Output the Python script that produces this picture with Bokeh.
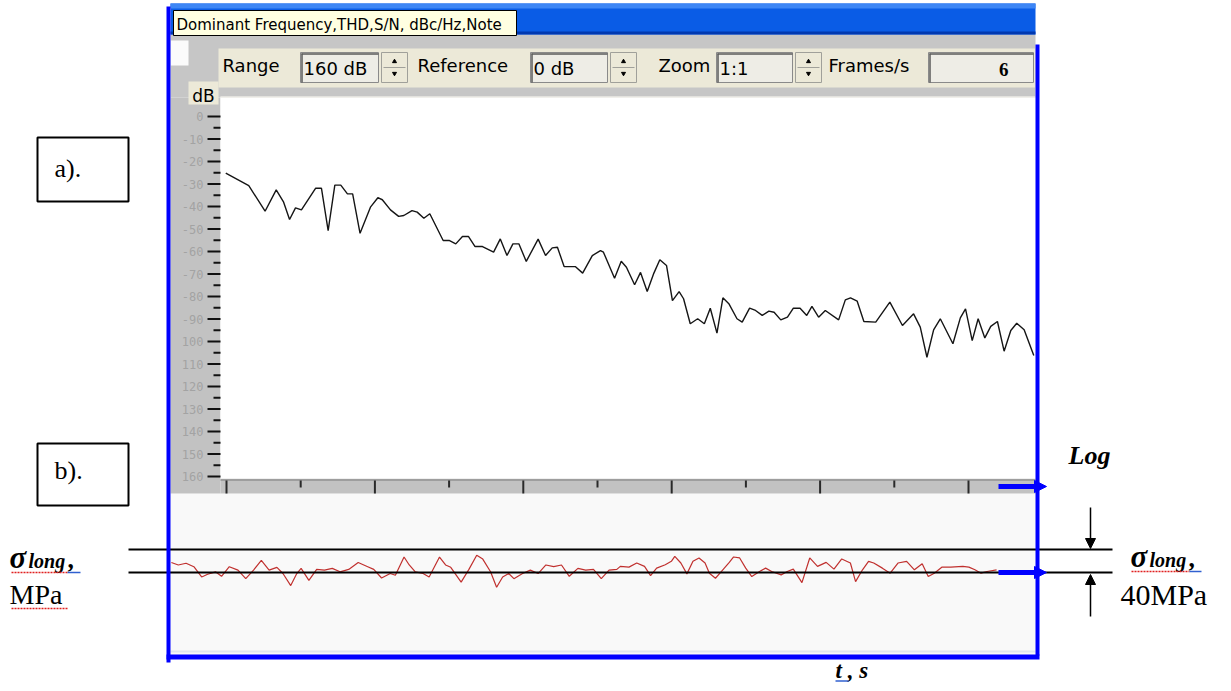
from bokeh.plotting import figure
from bokeh.models import Range1d, Arrow, NormalHead
from bokeh.core.properties import value
from bokeh.embed import file_html
from bokeh.resources import INLINE

# ---------------- data ----------------
# a) spectrum-like trace, dB vs. bin (bottom scale: one tick every 10 bins)
freq_bins = [-0.1, 3.0, 5.2, 6.7, 7.7, 8.5, 9.3, 10.1, 12.0, 12.8,
             13.7, 14.6, 15.4, 16.3, 17.0, 18.0, 19.4, 20.4, 21.0, 22.1,
             23.2, 23.9, 25.0, 25.7, 26.6, 27.4, 29.2, 30.0, 30.9, 31.8,
             32.6, 33.5, 34.5, 36.0, 36.9, 37.8, 38.6, 39.4, 40.4, 42.0,
             43.0, 43.9, 44.6, 45.5, 47.0, 48.0, 49.3, 50.4, 50.8, 52.3,
             53.2, 53.9, 55.0, 55.8, 56.7, 57.6, 58.4, 59.3, 60.1, 61.0,
             61.6, 62.5, 63.5, 64.4, 65.2, 66.1, 66.9, 67.7, 68.8, 69.5,
             70.5, 71.3, 72.2, 73.1, 73.8, 74.7, 75.6, 76.4, 77.3, 78.2,
             78.9, 79.8, 80.7, 82.5, 83.4, 84.1, 85.0, 85.9, 87.5, 89.4,
             91.1, 92.6, 93.5, 94.4, 95.3, 96.2, 97.9, 98.9, 99.6, 100.5,
             101.3, 102.2, 103.0, 103.9, 104.8, 105.7, 106.5, 107.5, 108.8]
level_db = [-25.2, -30.7, -42.1, -32.6, -38.1, -45.8, -40.6, -41.5, -31.9, -31.9,
            -50.7, -30.5, -30.5, -34.4, -34.4, -51.9, -40.3, -36.1, -37.0, -41.5,
            -44.4, -44.0, -41.8, -42.5, -45.2, -43.2, -55.1, -55.1, -56.6, -53.3,
            -53.3, -57.8, -57.8, -60.3, -54.4, -61.8, -56.6, -56.6, -64.4, -54.5,
            -61.8, -58.4, -58.1, -66.7, -66.7, -69.6, -61.8, -59.6, -60.3, -71.9,
            -64.3, -67.0, -74.8, -69.3, -77.8, -69.6, -63.7, -66.2, -81.8, -77.8,
            -81.0, -92.1, -89.9, -92.1, -85.2, -96.3, -80.6, -83.2, -89.9, -91.4,
            -85.2, -86.2, -88.4, -86.5, -87.0, -90.4, -89.2, -85.2, -85.2, -88.4,
            -84.4, -89.2, -86.2, -90.4, -81.5, -80.6, -82.1, -91.1, -91.4, -82.5,
            -92.9, -87.7, -93.6, -107.0, -94.8, -89.9, -101.0, -89.5, -85.5, -99.6,
            -89.9, -98.4, -93.3, -91.1, -104.3, -95.1, -91.9, -94.8, -106.2]

db_tick_values = [0, -10, -20, -30, -40, -50, -60, -70, -80, -90,
                  -100, -110, -120, -130, -140, -150, -160]
db_tick_labels = ["0", "-10", "-20", "-30", "-40", "-50", "-60", "-70", "-80", "-90",
                  "100", "110", "120", "130", "140", "150", "160"]
bin_ticks = [0, 10, 20, 30, 40, 50, 60, 70, 80, 90, 100]

# b) longitudinal stress trace, MPa vs. time
time_s = [0.1, 0.9, 1.8, 2.7, 3.6, 4.3, 5.2, 5.9, 6.8, 7.8,
          8.7, 9.6, 10.5, 11.4, 12.3, 13.0, 13.9, 14.6, 15.1, 16.0,
          16.9, 17.8, 18.7, 19.6, 20.6, 21.7, 22.8, 23.5, 24.4, 25.4,
          26.0, 27.0, 27.6, 28.3, 29.2, 29.9, 31.1, 31.8, 32.4, 33.6,
          34.5, 35.4, 36.1, 37.0, 37.7, 38.4, 39.1, 39.7, 40.7, 41.6,
          42.5, 43.4, 44.3, 45.2, 46.1, 47.1, 48.0, 48.9, 49.8, 50.7,
          51.6, 52.0, 53.0, 53.9, 54.8, 55.5, 56.2, 57.2, 57.9, 58.3,
          59.0, 59.7, 60.4, 61.1, 61.8, 62.3, 63.0, 63.7, 64.6, 65.1,
          65.8, 66.5, 67.2, 68.1, 68.8, 69.5, 70.6, 71.3, 72.0, 73.0,
          73.9, 74.8, 75.8, 76.7, 77.6, 78.6, 79.2, 80.0, 80.7, 81.3,
          82.3, 83.2, 84.1, 85.1, 86.0, 86.9, 87.6, 88.3, 89.2, 90.2,
          91.6, 92.3, 93.0, 93.7, 94.4, 95.5]
stress_mpa = [17.3, 13.1, 16.1, 10.1, -7.8, -3.0, 1.2, -6.6, 10.1, 4.2,
              -10.7, 4.2, 20.9, 4.2, 9.0, -1.8, -22.7, -1.8, 7.2, -13.7,
              5.4, 4.2, 7.2, 1.2, 5.4, 17.3, 10.1, 5.4, -9.6, -1.8,
              -4.8, 26.9, 13.1, 1.2, -1.8, -7.8, 26.9, 13.1, 9.0, -16.7,
              5.4, 29.9, 23.3, 1.2, -25.7, -7.8, -1.8, -10.7, -1.8, 4.2,
              -1.8, 13.1, 10.1, 13.1, -6.6, 7.2, 4.2, 5.4, -10.7, 4.2,
              5.4, 10.6, 9.4, 16.5, 10.6, -5.3, 7.6, 13.5, 19.4, 28.2,
              16.5, -2.4, 19.4, 25.3, 16.5, -1.2, -10.0, 1.8, 17.6, 27.0,
              25.3, 7.6, -7.1, 1.8, 7.6, 1.8, -4.1, 1.8, 5.9, -17.6,
              25.3, 10.6, 17.6, 5.9, 23.5, 16.5, -15.9, 4.7, 19.4, 16.5,
              7.6, -1.2, 16.5, 19.4, 4.7, 15.3, -7.1, -1.2, 9.4, 9.4,
              10.6, 9.4, 4.7, -1.2, 1.8, 4.7]
stress_levels = [0, 40]   # the two reference lines, 40 MPa apart

# toolbar texts
toolbar_labels = ["Range", "Reference", "Zoom", "Frames/s"]
toolbar_fields = ["160 dB", "0 dB", "1:1", "6"]
tooltip_text = "Dominant Frequency,THD,S/N, dBc/Hz,Note"

# ---------------- figure (picture-pixel coordinates for the drawing) ----------------
W, H = 1223, 683
p = figure(width=W, height=H, x_range=Range1d(0, 1223), y_range=Range1d(683, 0),
           output_backend="svg", toolbar_location=None, min_border=0,
           x_axis_location=None, y_axis_location=None)
p.grid.visible = False
p.outline_line_color = None
p.background_fill_color = "white"
p.border_fill_color = "white"
p.extra_x_ranges = {"bins": Range1d(-30.458, 134.367), "time": Range1d(-19.653, 121.734)}
p.extra_y_ranges = {"db": Range1d(-252, 51.556), "mpa": Range1d(-193.04, 994.78)}

SERIF = "Liberation Serif"
UI = "DejaVu Sans"


def box(l, r, t, b, fill, line=None, lw=1):
    p.quad(left=l, right=r, top=t, bottom=b, fill_color=fill,
           line_color=line, line_width=lw)


def txt(x, y, s, size, font=UI, color="black", style="normal", align="left",
        baseline="middle", **kw):
    p.text(x=[x], y=[y], text=[s], text_font=value(font), text_font_size=f"{size}px",
           text_color=color, text_font_style=style, text_align=align,
           text_baseline=baseline, **kw)


# panel b background
box(170, 1035, 493, 655, "#f9f9f9")
p.segment(x0=[170], y0=[651], x1=[1035], y1=[651], line_color="#dfe6ee", line_width=2)

# window chrome
box(170, 1035, 34, 97, "#c6c6c6")
box(170, 220, 97, 493, "#c2c2c2")
box(220, 1035, 478, 493, "#c2c2c2")
box(218, 1035, 48, 87, "#ece9d8")
box(220, 1035, 96, 478, "white")
p.segment(x0=[220], y0=[96.5], x1=[1035], y1=[96.5], line_color="#e2e0d8", line_width=1)
box(170, 188, 40, 65, "#fbfbfb")
box(188, 218, 81, 104, "#ece9d8")
txt(203, 95, "dB", 17, align="center")

# toolbar controls
label_x = [222, 417, 658, 828]
field_l = [300, 530, 716, 928]
field_r = [378, 607, 792, 1033]
spin_l = [381, 610, 795, None]
for i in range(4):
    txt(label_x[i], 65, toolbar_labels[i], 18)
    box(field_l[i], field_r[i], 52, 82, "#eeede6", "#8a8a8a", 1)
    p.segment(x0=[field_l[i] + 1], y0=[53.5], x1=[field_r[i]], y1=[53.5],
              line_color="#5a5a5a", line_width=1.5)
    p.segment(x0=[field_l[i] + 1.5], y0=[53], x1=[field_l[i] + 1.5], y1=[82],
              line_color="#5a5a5a", line_width=1.5)
    if spin_l[i] is not None:
        sx = spin_l[i]
        box(sx, sx + 26, 52, 82, "#ece9d8", "#a0a09a", 1)
        p.segment(x0=[sx + 2], y0=[67], x1=[sx + 24], y1=[67], line_color="#a0a09a")
        p.scatter(x=[sx + 13], y=[61], marker="triangle", size=4, color="black")
        p.scatter(x=[sx + 13], y=[73], marker="inverted_triangle", size=4, color="black")
for i in range(3):
    txt(field_l[i] + 3, 68, toolbar_fields[i], 18)
txt(1008, 69, toolbar_fields[3], 19, font="Liberation Serif", style="bold", align="right")

# title bar
box(170, 1035, 3, 34, "#0a5ce6")
box(170, 1035, 3, 8, "#3d86f5")
box(170, 1035, 31, 34, "#0038b0")

# tooltip
box(173, 516, 10, 35, "#ffffe1", "black", 1)
txt(176, 24, tooltip_text, 15)

# dB scale of the analyser
p.segment(x0=[207] * len(db_tick_values), y0=db_tick_values,
          x1=[220] * len(db_tick_values), y1=db_tick_values,
          y_range_name="db", line_color="#111111", line_width=2)
minor = [v - 5 for v in db_tick_values[:-1]]
p.segment(x0=[213] * len(minor), y0=minor, x1=[220] * len(minor), y1=minor,
          y_range_name="db", line_color="#111111", line_width=2)
p.text(x=[203] * len(db_tick_values), y=db_tick_values, text=db_tick_labels,
       y_range_name="db", text_font=value("DejaVu Sans Mono"), text_font_size="12px",
       text_color="#a3a3a3", text_align="right", text_baseline="middle")

# bottom strip ticks
p.segment(x0=[220], y0=[479.5], x1=[1035], y1=[479.5], line_color="#7a7a7a", line_width=1)
long_t = [b for b in bin_ticks if b % 20 == 0]
short_t = [b for b in bin_ticks if b % 20 != 0]
p.segment(x0=long_t, y0=[480] * len(long_t), x1=long_t, y1=[493] * len(long_t),
          x_range_name="bins", line_color="#2a2a2a", line_width=2)
p.segment(x0=short_t, y0=[480] * len(short_t), x1=short_t, y1=[487] * len(short_t),
          x_range_name="bins", line_color="#2a2a2a", line_width=2)

# a) trace
p.line(freq_bins, level_db, x_range_name="bins", y_range_name="db",
       line_color="#151515", line_width=1.4)

# b) stress trace and reference lines
p.line(time_s, stress_mpa, x_range_name="time", y_range_name="mpa",
       line_color="#c0302e", line_width=1.2)
p.segment(x0=[128, 128], y0=stress_levels, x1=[1112, 1112], y1=stress_levels,
          y_range_name="mpa", line_color="black", line_width=2)

# blue frame
box(166, 170, 6, 662, "#0000ff")
box(1035, 1039, 44, 655, "#0000ff")
box(166, 1039, 654, 659, "#0000ff")

# arrows
for yy in [486, 572]:
    p.add_layout(Arrow(end=NormalHead(size=12, fill_color="#0000ff", line_color="#0000ff"),
                       x_start=998, y_start=yy, x_end=1046, y_end=yy,
                       line_color="#0000ff", line_width=5))
p.add_layout(Arrow(end=NormalHead(size=10, fill_color="black", line_color="black"),
                   x_start=1090, y_start=507, x_end=1090, y_end=548,
                   line_color="black", line_width=1.5))
p.add_layout(Arrow(end=NormalHead(size=10, fill_color="black", line_color="black"),
                   x_start=1090, y_start=616, x_end=1090, y_end=574,
                   line_color="black", line_width=1.5))

# annotations
txt(1068, 455, "Log", 26, font=SERIF, style="bold italic")

# left sigma label
txt(9, 557, "σ", 31, font=SERIF, style="bold italic")
txt(28, 560, "long", 20, font=SERIF, style="bold italic")
txt(68, 559, ",", 26, font=SERIF, style="bold italic")
txt(9, 594, "MPa", 28, font=SERIF)
p.segment(x0=[11], y0=[572], x1=[67], y1=[572], line_color="#e02020", line_width=1.5, line_dash="2 1")
p.segment(x0=[67], y0=[572], x1=[80], y1=[572], line_color="#3060d0", line_width=1.5)
p.segment(x0=[11], y0=[608], x1=[68], y1=[608], line_color="#e02020", line_width=1.5, line_dash="2 1")

# right sigma label
txt(1130, 556, "σ", 31, font=SERIF, style="bold italic")
txt(1149, 559, "long", 20, font=SERIF, style="bold italic")
txt(1189, 558, ",", 26, font=SERIF, style="bold italic")
txt(1120, 594, "40MPa", 30, font=SERIF)
p.segment(x0=[1131], y0=[571], x1=[1189], y1=[571], line_color="#e02020", line_width=1.5, line_dash="2 1")
p.segment(x0=[1189], y0=[571], x1=[1201], y1=[571], line_color="#3060d0", line_width=1.5)

# time axis label
txt(835, 670, "t , s", 23, font=SERIF, style="bold italic")
p.segment(x0=[835], y0=[680.5], x1=[848], y1=[680.5], line_color="#3060d0", line_width=1.5)

# a) / b) boxes
box(37, 128, 137, 201, "white", "black", 2)
txt(54, 168, "a).", 26, font=SERIF)
box(37, 128, 443, 505, "white", "black", 2)
txt(54, 470, "b).", 26, font=SERIF)

open("out.html", "w").write(file_html(p, INLINE))
